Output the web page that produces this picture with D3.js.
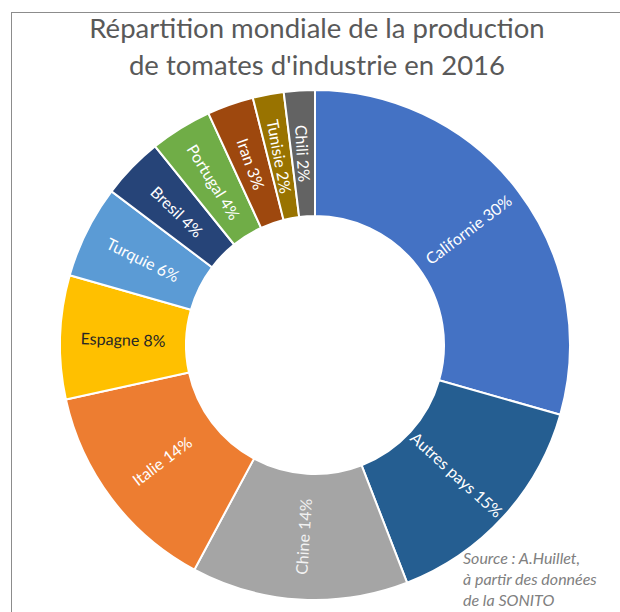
<!DOCTYPE html>
<html>
<head>
<meta charset="utf-8">
<script src="https://cdn.jsdelivr.net/npm/d3@7"></script>
<style>
  body { margin: 0; background: #fff; }
  svg { display: block; }
</style>
</head>
<body>
<svg id="chart" width="620" height="612"></svg>
<script>
// data (labels sum to 102 because of rounding)
const countries = ['Californie', 'Autres pays', 'Chine', 'Italie', 'Espagne', 'Turquie',
  'Bresil', 'Portugal', 'Iran', 'Tunisie', 'Chili'];
const shares = [30, 15, 14, 14, 8, 6, 4, 4, 3, 2, 2];
const sliceColors = ['#4472C4', '#255E91', '#A5A5A5', '#ED7D31', '#FFC000', '#5B9BD5',
  '#264478', '#70AD47', '#9E480E', '#997300', '#636363'];
const labelColors = ['#fff', '#fff', '#f2f2f2', '#fff', '#262626', '#fff',
  '#fff', '#fff', '#fff', '#fff', '#fff'];
const titleLines = ['Répartition mondiale de la production', "de tomates d'industrie en 2016"];
const sourceLines = ['Source : A.Huillet,', 'à partir des données', 'de la SONITO'];

const data = countries.map((c, i) => ({ name: c, value: shares[i], i: i }));

const svg = d3.select('#chart');

// chart frame
svg.append('rect')
  .attr('x', 11.5).attr('y', 12.5)
  .attr('width', 700).attr('height', 700)
  .attr('fill', 'none')
  .attr('stroke', '#8c8c8c')
  .attr('stroke-width', 1);

// title
svg.append('g').selectAll('text')
  .data(titleLines)
  .join('text')
  .attr('x', 317)
  .attr('y', (d, i) => 38 + i * 37)
  .attr('text-anchor', 'middle')
  .attr('font-family', 'Lato, sans-serif')
  .attr('font-size', 27.5)
  .attr('fill', '#595959')
  .text(d => d);

const cx = 315, cy = 345;
const outerR = 255, innerR = 129;

const pie = d3.pie().value(d => d.value).sort(null);
const arc = d3.arc().innerRadius(innerR).outerRadius(outerR);

const g = svg.append('g').attr('transform', `translate(${cx},${cy})`);

const arcs = pie(data);

g.selectAll('path')
  .data(arcs)
  .join('path')
  .attr('d', arc)
  .attr('fill', d => sliceColors[d.data.i])
  .attr('stroke', '#fff')
  .attr('stroke-width', 2);

// labels run along the radius, flipped so they stay readable
g.selectAll('text')
  .data(arcs)
  .join('text')
  .attr('transform', d => {
    const [x, y] = arc.centroid(d);
    const mid = (d.startAngle + d.endAngle) / 2 * 180 / Math.PI;
    let rot = mid - 90;
    if (rot > 90) rot -= 180;
    return `translate(${x},${y}) rotate(${rot})`;
  })
  .attr('text-anchor', 'middle')
  .attr('dominant-baseline', 'central')
  .attr('font-family', 'Lato, sans-serif')
  .attr('font-size', 16)
  .attr('fill', d => labelColors[d.data.i])
  .text(d => `${d.data.name} ${d.data.value}%`);

// source note
svg.append('g').selectAll('text')
  .data(sourceLines)
  .join('text')
  .attr('x', 463)
  .attr('y', (d, i) => 564 + i * 21)
  .attr('font-family', 'Lato, sans-serif')
  .attr('font-style', 'italic')
  .attr('font-size', 16)
  .attr('fill', '#808080')
  .text(d => d);
</script>
</body>
</html>
